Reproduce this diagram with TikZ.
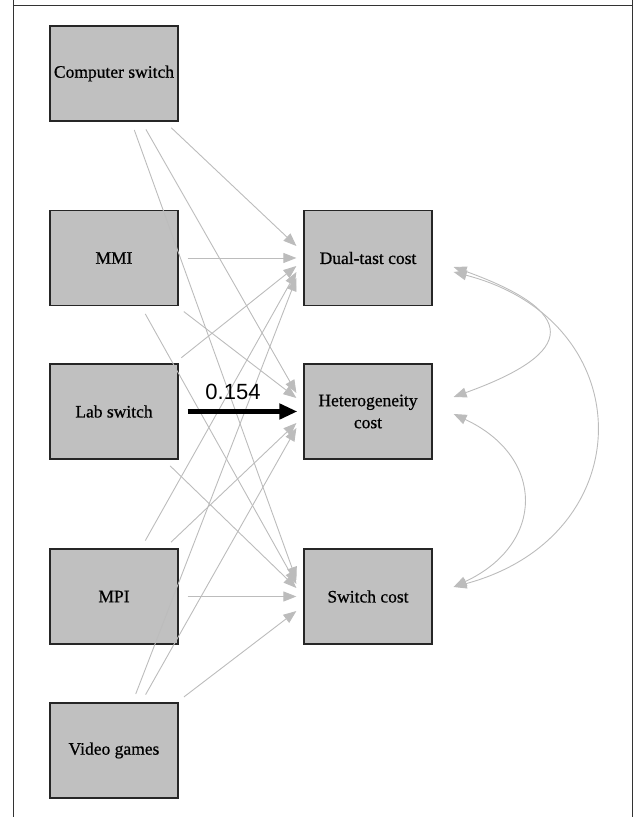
\documentclass[tikz,border=0pt]{standalone}
\usepackage{fontspec}
\setmainfont{Liberation Serif}
\newfontfamily\varfont{Liberation Serif}[FakeBold=0.7]
\newfontfamily\coeffont{Liberation Sans}
\usetikzlibrary{arrows.meta}

\definecolor{boxgray}{RGB}{192,192,192}
\definecolor{edgegray}{RGB}{188,188,188}

\tikzset{
  var/.style = {draw = black!85, line width = 1.2pt, fill = boxgray,
                minimum width = 128pt, minimum height = 95pt, inner sep = 0pt,
                align = center, font = \varfont\fontsize{17.5}{22}\selectfont},
  edge/.style = {edgegray, line width = .9pt, shorten <= 9pt,
                 -{Triangle[length = 13pt, width = 10pt]}},
  effect/.style = {black, line width = 5pt, shorten <= 9pt,
                   -{Triangle[length = 18pt, width = 15pt]}},
  cov/.style = {edgegray, line width = .9pt,
                {Triangle[length = 13pt, width = 10pt]}-{Triangle[length = 13pt, width = 10pt]}},
  coef/.style = {font = \coeffont\fontsize{22}{24}\selectfont, inner sep = 0pt}
}

\begin{document}
\begin{tikzpicture}[x = 1pt, y = 1pt]
  \useasboundingbox (0,0) rectangle (635,817);
  \draw [black!80, line width = .9pt] (13,817) -- (13,812) -- (632,812) -- (632,817);
  \draw [black!80, line width = .9pt] (13,0) -- (13,812);
  \draw [black!80, line width = .9pt] (632,0) -- (632,812);

  % predictors
  \node [var] (cs) at (114,743.5) {Computer switch};
  \node [var] (mmi) at (114,559) {MMI};
  \node [var] (lab) at (114,405.5) {Lab switch};
  \node [var] (mpi) at (114,220.5) {MPI};
  \node [var] (vg) at (114,66.5) {Video games};

  % outcomes
  \node [var] (dual) at (368,559) {Dual-tast cost};
  \node [var] (het) at (368,405.5) {Heterogeneity\\cost};
  \node [var] (sw) at (368,220.5) {Switch cost};

  \draw [edge] (cs) -- ([shift = {(-7,12)}] dual.west);
  \draw [edge] (cs) -- ([shift = {(-7,18.5)}] het.west);
  \draw [edge] (cs) -- ([shift = {(-7,16.5)}] sw.west);

  \draw [edge] (mmi) -- ([shift = {(-7,0)}] dual.west);
  \draw [edge] (mmi) -- ([shift = {(-7,13.5)}] het.west);
  \draw [edge] (mmi) -- ([shift = {(-7,12.5)}] sw.west);

  \draw [edge] (lab) -- ([shift = {(-7,-8)}] dual.west);
  \draw [edge] (lab) -- ([shift = {(-7,8.5)}] sw.west);

  \draw [edge] (mpi) -- ([shift = {(-7,-14)}] dual.west);
  \draw [edge] (mpi) -- ([shift = {(-7,-11.5)}] het.west);
  \draw [edge] (mpi) -- ([shift = {(-7,0)}] sw.west);

  \draw [edge] (vg) -- ([shift = {(-7,-20)}] dual.west);
  \draw [edge] (vg) -- ([shift = {(-7,-16.5)}] het.west);
  \draw [edge] (vg) -- ([shift = {(-7,-14.5)}] sw.west);

  \draw [effect] (lab) -- ([xshift = -6pt] het.west);
  \node [coef] (b) at (233,425) {0.154};

  % covariances
  \draw [cov] ([shift = {(21,-9)}] dual.east)
    .. controls +(125,-45) and +(125,45) .. ([shift = {(21,14.5)}] het.east);
  \draw [cov] ([shift = {(21,-2.5)}] het.east)
    .. controls +(92,-43) and +(92,43) .. ([shift = {(21,9.5)}] sw.east);
  \draw [cov] ([shift = {(21,-14)}] dual.east)
    .. controls +(189,-49) and +(189,51) .. ([shift = {(21,9.5)}] sw.east);
\end{tikzpicture}
\end{document}
